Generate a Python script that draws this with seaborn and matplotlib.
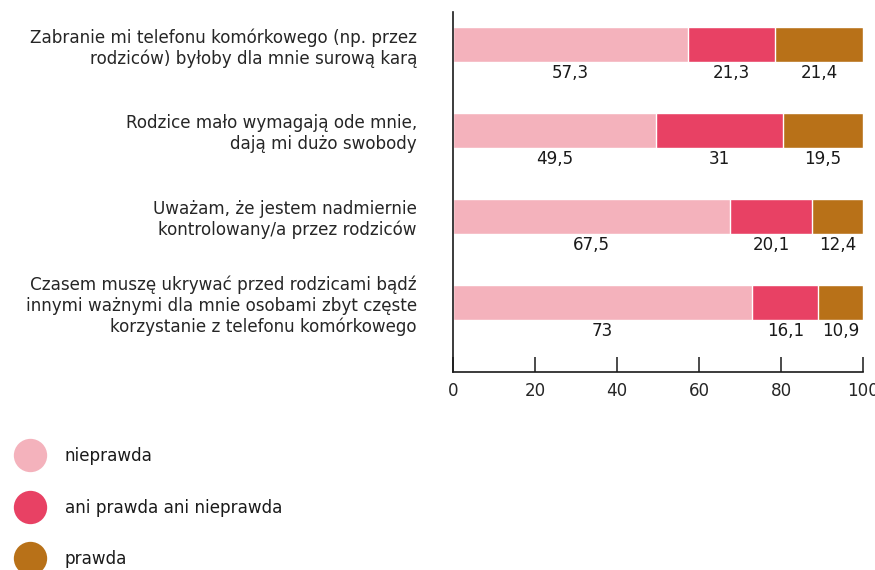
import matplotlib
matplotlib.use("Agg")
import matplotlib.pyplot as plt
from matplotlib.lines import Line2D
import numpy as np
import pandas as pd
import seaborn as sns

categories = [
    "Zabranie mi telefonu komórkowego (np. przez\nrodziców) byłoby dla mnie surową karą",
    "Rodzice mało wymagają ode mnie,\ndają mi dużo swobody",
    "Uważam, że jestem nadmiernie\nkontrolowany/a przez rodziców",
    "Czasem muszę ukrywać przed rodzicami bądź\ninnymi ważnymi dla mnie osobami zbyt częste\nkorzystanie z telefonu komórkowego",
]
series_names = ["nieprawda", "ani prawda ani nieprawda", "prawda"]
nieprawda = [57.3, 49.5, 67.5, 73]
ani_prawda = [21.3, 31, 20.1, 16.1]
prawda = [21.4, 19.5, 12.4, 10.9]
value_labels = [
    ["57,3", "49,5", "67,5", "73"],
    ["21,3", "31", "20,1", "16,1"],
    ["21,4", "19,5", "12,4", "10,9"],
]
x_ticks = [0, 20, 40, 60, 80, 100]

colors = ["#F4B2BC", "#E84164", "#B87118"]

sns.set_theme(style="white")
plt.rcParams["font.family"] = ["DejaVu Sans"]
plt.rcParams["text.color"] = "#1a1a1a"
FS = 12.1

fig = plt.figure(figsize=(8.75, 5.7), dpi=100)
ax = fig.add_axes([0.5177, 0.3474, 0.9863 - 0.5177, 0.9789 - 0.3474])

values = np.array([nieprawda, ani_prawda, prawda])
cum = np.cumsum(values, axis=0)

# stacked bars: draw cumulative totals from the outermost segment inward
for i in reversed(range(len(series_names))):
    df = pd.DataFrame({"cat": categories, "end": cum[i]})
    sns.barplot(data=df, x="end", y="cat", color=colors[i], width=0.407,
                saturation=1, ax=ax, orient="h")

# value labels under each segment
for i in range(len(series_names)):
    starts = cum[i] - values[i]
    for j in range(len(categories)):
        ax.text(starts[j] + values[i][j] / 2, j + 0.335, value_labels[i][j],
                ha="center", va="center", fontsize=FS, color="#1a1a1a")

ax.set_xlim(0, 100)
ax.set_ylim(3.81, -0.378)
ax.set_xticks(x_ticks)
ax.set_xticklabels([str(t) for t in x_ticks], fontsize=FS)
ax.set_xlabel("")
ax.set_ylabel("")
ax.tick_params(axis="x", direction="in", length=11, width=1.1, color="#1a1a1a",
               pad=7.5, bottom=True)
ax.tick_params(axis="y", length=0, pad=26, labelsize=FS)
for lbl in ax.get_yticklabels():
    lbl.set_multialignment("right")
    lbl.set_linespacing(1.18)

for side in ["top", "right"]:
    ax.spines[side].set_visible(False)
for side in ["left", "bottom"]:
    ax.spines[side].set_color("#1a1a1a")
    ax.spines[side].set_linewidth(1.2)

handles = [Line2D([], [], linestyle="none", marker="o", markersize=24,
                  markerfacecolor=c, markeredgewidth=0) for c in colors]
fig.legend(handles, series_names, loc="upper left",
           bbox_to_anchor=(13.5 / 875, 1 - 447 / 570), frameon=False,
           fontsize=FS, handlelength=2.0, handletextpad=1.05,
           labelspacing=2.0, borderpad=0, borderaxespad=0)

fig.savefig("out.png", dpi=100)
